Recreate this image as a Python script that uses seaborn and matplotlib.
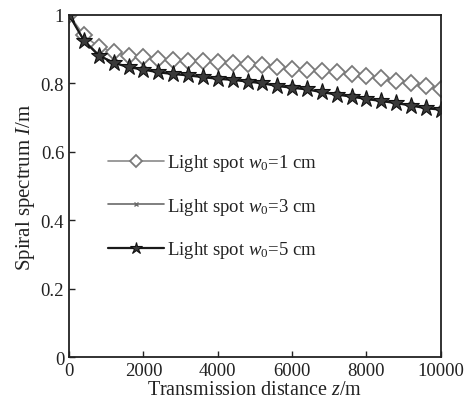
import numpy as np
import pandas as pd
import matplotlib
matplotlib.use("Agg")
import matplotlib.pyplot as plt
import seaborn as sns

distance = [0, 400, 800, 1200, 1600, 2000, 2400, 2800, 3200, 3600, 4000, 4400, 4800,
            5200, 5600, 6000, 6400, 6800, 7200, 7600, 8000, 8400, 8800, 9200, 9600, 10000]
w1 = [1.000, 0.940, 0.906, 0.891, 0.881, 0.876, 0.871, 0.868, 0.866, 0.864, 0.862, 0.859, 0.856,
      0.852, 0.847, 0.842, 0.839, 0.836, 0.832, 0.827, 0.821, 0.816, 0.808, 0.800, 0.792, 0.784]
w3 = [1.000, 0.926, 0.882, 0.861, 0.848, 0.841, 0.833, 0.828, 0.824, 0.819, 0.814, 0.811, 0.806,
      0.801, 0.793, 0.788, 0.783, 0.775, 0.768, 0.762, 0.755, 0.749, 0.743, 0.736, 0.728, 0.724]
w5 = [1.000, 0.925, 0.881, 0.860, 0.847, 0.840, 0.832, 0.827, 0.823, 0.818, 0.813, 0.810, 0.805,
      0.800, 0.792, 0.787, 0.782, 0.774, 0.767, 0.761, 0.754, 0.748, 0.742, 0.735, 0.727, 0.723]
labels = ["Light spot $w_0$=1 cm", "Light spot $w_0$=3 cm", "Light spot $w_0$=5 cm"]
xticks = [0, 2000, 4000, 6000, 8000, 10000]
yticks = [0, 0.2, 0.4, 0.6, 0.8, 1]
ytick_labels = ["0", "0.2", "0.4", "0.6", "0.8", "1"]

sns.set_theme(style="white")
plt.rcParams['font.family'] = ['Liberation Serif', 'DejaVu Serif']
plt.rcParams['mathtext.fontset'] = 'custom'
plt.rcParams['mathtext.rm'] = 'Liberation Serif'
plt.rcParams['mathtext.it'] = 'Liberation Serif:italic'

fig = plt.figure(figsize=(4.73, 4.06), dpi=100)
ax = fig.add_axes([0.146, 0.118, 0.786, 0.843])

sns.lineplot(x=distance, y=w1, ax=ax, color="#8a8a8a", lw=1.2, marker="D",
             markersize=8.5, markerfacecolor="white", markeredgecolor="#7a7a7a",
             markeredgewidth=1.3, label=labels[0])
sns.lineplot(x=distance, y=w3, ax=ax, color="#6a6a6a", lw=1.2, marker="x",
             markersize=4, markeredgecolor="#6a6a6a", markeredgewidth=1.0, label=labels[1])
sns.lineplot(x=distance, y=w5, ax=ax, color="#1a1a1a", lw=1.6, marker="*",
             markersize=12.5, markerfacecolor="#3a3a3a", markeredgecolor="#111111",
             markeredgewidth=0.8, label=labels[2])

ax.set_xlim(0, 10000)
ax.set_ylim(0, 1)
ax.set_xticks(xticks)
ax.set_yticks(yticks)
ax.set_yticklabels(ytick_labels)
ax.tick_params(direction="in", length=4, width=1, labelsize=13.5, colors="#222222",
               bottom=True, left=True, top=False, right=False)
for s in ax.spines.values():
    s.set_color("#222222")
    s.set_linewidth(1.3)
ax.set_xlabel("Transmission distance $z$/m", fontsize=14.5, color="#222222", labelpad=1)
ax.set_ylabel("Spiral spectrum $I$/m", fontsize=15, color="#222222", labelpad=3)

leg = ax.legend(loc="center left", bbox_to_anchor=(0.06, 0.44), frameon=False,
                fontsize=13.5, handlelength=3.0, handletextpad=0.15, labelspacing=1.2,
                markerscale=0.7)
for t in leg.get_texts():
    t.set_color("#222222")

fig.savefig("out.png", dpi=100)
